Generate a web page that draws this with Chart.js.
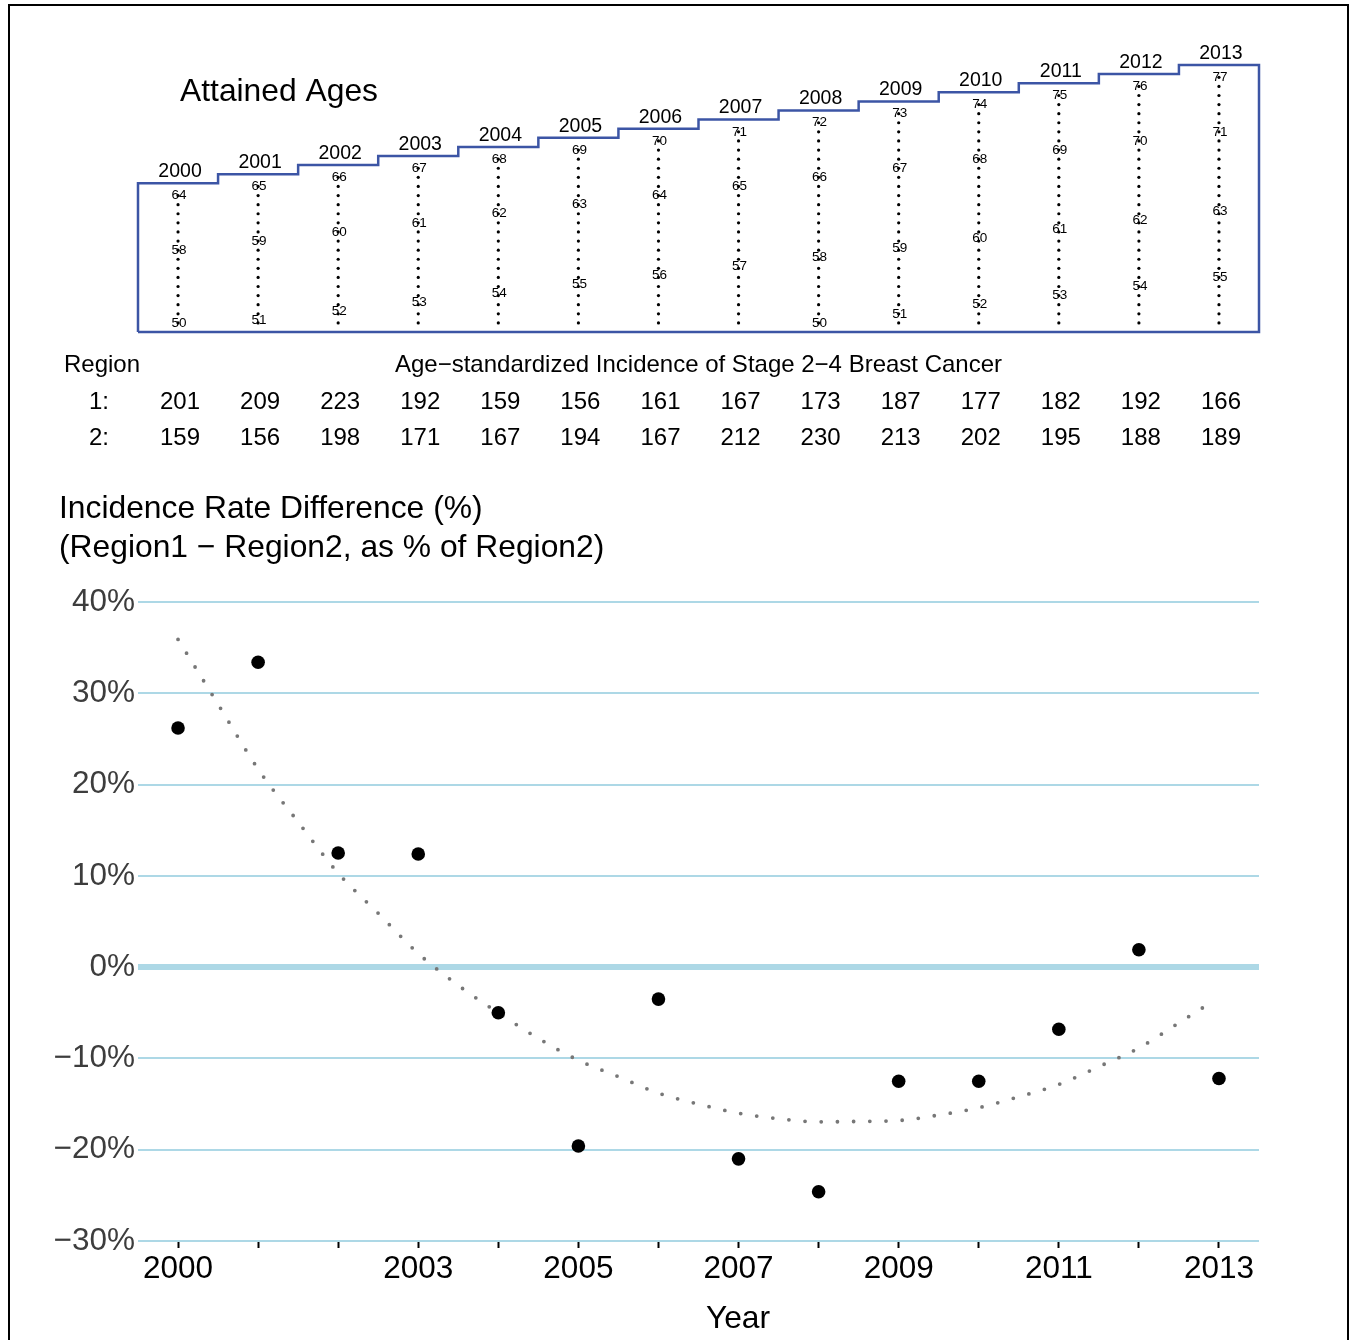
<!DOCTYPE html>
<html>
<head>
<meta charset="utf-8">
<script src="https://cdn.jsdelivr.net/npm/chart.js@4.4.1/dist/chart.umd.min.js"></script>
<style>
  html, body { margin: 0; padding: 0; background: #fff; }
  body { width: 1353px; height: 1340px; position: relative; overflow: hidden; }
  #frame { position: absolute; left: 8px; top: 4px; width: 1341px; height: 1400px; border: 2px solid #000; box-sizing: border-box; }
  .wrap { position: absolute; left: 0; }
</style>
</head>
<body>
<div id="frame"></div>
<div class="wrap" style="top:0"><canvas id="agesChart" width="1353" height="470"></canvas></div>
<div class="wrap" style="top:470px"><canvas id="diffChart" width="1353" height="870"></canvas></div>
<script>
// Data
const years = [2000, 2001, 2002, 2003, 2004, 2005, 2006, 2007, 2008, 2009, 2010, 2011, 2012, 2013];
const topAges = [64, 65, 66, 67, 68, 69, 70, 71, 72, 73, 74, 75, 76, 77];
const minAge = 50;
const cohortBirth = [1936, 1942, 1950, 1958];
const cohortShift = [0, 0, -0.75, 0];   // label sits a little below its dot for this cohort
const region1 = [201, 209, 223, 192, 159, 156, 161, 167, 173, 187, 177, 182, 192, 166];
const region2 = [159, 156, 198, 171, 167, 194, 167, 212, 230, 213, 202, 195, 188, 189];
const diffPct = [26.2, 33.4, 12.5, 12.4, -5.0, -19.6, -3.5, -21.0, -24.6, -12.5, -12.5, -6.8, 1.9, -12.2];
const trendYears = [2000, 2000.5, 2001, 2001.5, 2002, 2002.5, 2003, 2003.5, 2004, 2004.5, 2005, 2005.5, 2006, 2006.5,
                    2007, 2007.5, 2008, 2008.5, 2009, 2009.5, 2010, 2010.5, 2011, 2011.5, 2012, 2012.5, 2012.86];
const trendPct = [35.9, 28.8, 21.7, 15.9, 10.3, 5.9, 1.5, -2.0, -5.0, -7.8, -10.2, -12.0, -13.8, -15.0,
                  -16.0, -16.6, -16.95, -16.9, -16.8, -16.2, -15.4, -14.2, -12.85, -10.9, -8.85, -6.1, -4.1];
const yTicks = [-30, -20, -10, 0, 10, 20, 30, 40];
const xLabelYears = [2000, 2003, 2005, 2007, 2009, 2011, 2013];

const FONT = '"Liberation Sans", Arial, Helvetica, sans-serif';
Chart.defaults.font.family = FONT;
Chart.defaults.animation = false;

const stepPad = 1.35;
const blue = '#3c55a5';

// ---------- top panel: attained ages ----------
const stairs = [{ x: years[0] - 0.5, y: 49 }];
years.forEach((yr, i) => stairs.push({ x: yr - 0.5, y: topAges[i] + stepPad }));
stairs.push({ x: years[years.length - 1] + 0.5, y: 49 });
stairs.push({ x: years[0] - 0.5, y: 49 });

const ageDots = [];
years.forEach((yr, i) => {
  for (let a = minAge; a <= topAges[i]; a++) ageDots.push({ x: yr, y: a });
});

const topText = {
  id: 'topText',
  afterDatasetsDraw(chart) {
    const ctx = chart.ctx, xs = chart.scales.x, ys = chart.scales.y;
    ctx.save();
    ctx.fillStyle = '#000';
    ctx.textAlign = 'center';
    ctx.textBaseline = 'middle';

    // year above each step
    ctx.font = '19.5px ' + FONT;
    years.forEach((yr, i) => {
      ctx.fillText(String(yr), xs.getPixelForValue(yr) + 2, ys.getPixelForValue(topAges[i] + stepPad) - 11.5);
    });

    // cohort ages
    ctx.font = '13.5px ' + FONT;
    years.forEach((yr, i) => {
      cohortBirth.forEach((b, k) => {
        const age = yr - b;
        if (age < minAge || age > topAges[i]) return;
        const pos = Math.max(minAge, age + cohortShift[k]);
        ctx.fillText(String(age), xs.getPixelForValue(yr) + 1, ys.getPixelForValue(pos));
      });
    });

    ctx.textAlign = 'left';
    ctx.textBaseline = 'alphabetic';
    ctx.font = '31.8px ' + FONT;
    ctx.fillText('Attained Ages', 180, 100.5);

    // incidence table
    ctx.font = '24px ' + FONT;
    ctx.textBaseline = 'middle';
    ctx.fillText('Region', 64, 365);
    ctx.textAlign = 'center';
    ctx.fillText('Age\u2212standardized Incidence of Stage 2\u22124 Breast Cancer', (xs.left + xs.right) / 2, 365);
    ctx.textAlign = 'right';
    ctx.fillText('1:', 109, 402);
    ctx.fillText('2:', 109, 438);
    ctx.textAlign = 'center';
    years.forEach((yr, i) => {
      const px = xs.getPixelForValue(yr) + 2;
      ctx.fillText(String(region1[i]), px, 402);
      ctx.fillText(String(region2[i]), px, 438);
    });
    ctx.restore();
  }
};

new Chart(document.getElementById('agesChart'), {
  type: 'scatter',
  data: {
    datasets: [
      {
        type: 'line',
        data: stairs,
        showLine: true,
        stepped: 'before',
        borderColor: blue,
        borderWidth: 2.5,
        pointRadius: 0,
        fill: false,
        clip: false
      },
      {
        data: ageDots,
        pointRadius: 1.6,
        pointBackgroundColor: '#000',
        pointBorderWidth: 0,
        clip: false
      }
    ]
  },
  options: {
    responsive: false,
    layout: { padding: { left: 138, right: 94, top: 50, bottom: 138 } },
    scales: {
      x: { type: 'linear', min: 1999.5, max: 2013.5, display: false },
      y: { type: 'linear', min: 49, max: 80, display: false }
    },
    plugins: { legend: { display: false }, tooltip: { enabled: false } }
  },
  plugins: [topText]
});

// ---------- bottom panel: rate difference ----------
const minus = v => (v < 0 ? '\u2212' + Math.abs(v) : String(v));

const bottomText = {
  id: 'bottomText',
  afterDraw(chart) {
    const ctx = chart.ctx;
    ctx.save();
    ctx.fillStyle = '#000';
    ctx.font = '31.8px ' + FONT;
    ctx.textBaseline = 'middle';
    ctx.textAlign = 'left';
    ctx.fillText('Incidence Rate Difference (%)', 59, 39);
    ctx.fillText('(Region1 \u2212 Region2, as % of Region2)', 59, 78);
    ctx.textAlign = 'center';
    ctx.fillText('Year', 738, 849);
    ctx.restore();
  }
};

new Chart(document.getElementById('diffChart'), {
  type: 'scatter',
  data: {
    datasets: [
      {
        data: years.map((yr, i) => ({ x: yr, y: diffPct[i] })),
        pointRadius: 6.8,
        pointBackgroundColor: '#000',
        pointBorderWidth: 0,
        order: 1
      },
      {
        type: 'line',
        data: trendYears.map((yr, i) => ({ x: yr, y: trendPct[i] })),
        showLine: true,
        borderColor: '#777777',
        borderWidth: 3.8,
        borderDash: [0, 16.2],
        borderCapStyle: 'round',
        cubicInterpolationMode: 'monotone',
        pointRadius: 0,
        fill: false,
        order: 2
      }
    ]
  },
  options: {
    responsive: false,
    layout: { padding: { left: 0, right: 94, top: 132, bottom: 0 } },
    scales: {
      x: {
        type: 'linear',
        min: 1999.5,
        max: 2013.5,
        afterFit: s => { s.height = 99; },
        afterBuildTicks: s => { s.ticks = years.map(v => ({ value: v })); },
        border: { display: false },
        grid: { drawOnChartArea: false, drawTicks: true, tickLength: 7, tickColor: '#000', tickWidth: 2 },
        ticks: {
          autoSkip: false,
          maxRotation: 0,
          padding: 2,
          color: '#000',
          font: { size: 31.5 },
          callback: v => (xLabelYears.includes(v) ? String(v) : '')
        }
      },
      y: {
        type: 'linear',
        min: -30,
        max: 40,
        afterFit: s => { s.width = 138; },
        afterBuildTicks: s => { s.ticks = yTicks.map(v => ({ value: v })); },
        border: { display: false },
        grid: {
          drawTicks: false,
          color: '#add8e6',
          lineWidth: c => (c.tick && c.tick.value === 0 ? 6 : 2)
        },
        ticks: {
          padding: 3,
          color: '#3d3d3d',
          font: { size: 31.5 },
          callback: v => minus(v) + '%'
        }
      }
    },
    plugins: { legend: { display: false }, tooltip: { enabled: false } }
  },
  plugins: [bottomText]
});
</script>
</body>
</html>
